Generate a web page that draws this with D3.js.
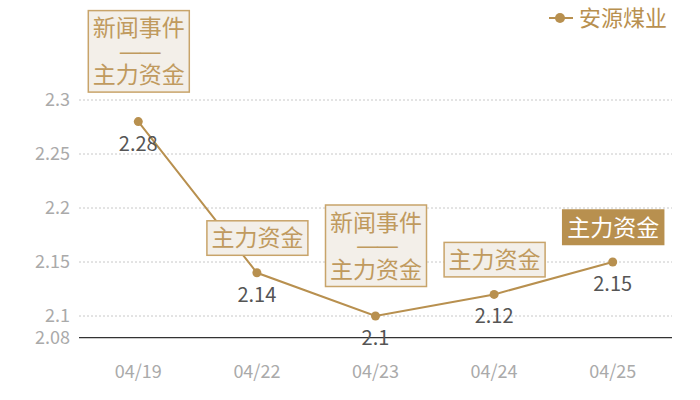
<!DOCTYPE html>
<html>
<head>
<meta charset="utf-8">
<script src="https://cdn.jsdelivr.net/npm/d3@7"></script>
<style>
	body { margin: 0; background: #fff; }
	svg { display: block; font-family: "Noto Sans CJK SC", "Noto Sans", sans-serif; }
</style>
</head>
<body>
<svg id="chart" width="700" height="400"></svg>
<script>
const dates = ["04/19", "04/22", "04/23", "04/24", "04/25"]
const prices = [2.28, 2.14, 2.1, 2.12, 2.15]
const yTicks = [2.08, 2.1, 2.15, 2.2, 2.25, 2.3]
const seriesName = "安源煤业"
// one annotation per day, lines of text and whether it is highlighted
const noteLines = [
	["新闻事件", "——", "主力资金"],
	["主力资金"],
	["新闻事件", "——", "主力资金"],
	["主力资金"],
	["主力资金"]
]
const noteFilled = [false, false, false, false, true]

const gold = "#b8904f"
const svg = d3.select("#chart")

const x = d3.scaleBand().domain(dates).range([79, 672])
const y = d3.scaleLinear().domain([2.08, 2.3]).range([337.6, 100])
const cx = d => x(d) + x.bandwidth() / 2

// grid + y labels
svg.append("g")
	.selectAll("line")
	.data(yTicks.filter(t => t !== 2.08))
	.join("line")
		.attr("x1", 79).attr("x2", 672)
		.attr("y1", d => y(d)).attr("y2", d => y(d))
		.attr("stroke", "#c8c8c8")
		.attr("stroke-dasharray", "2,2")

svg.append("line")
	.attr("x1", 79).attr("x2", 672)
	.attr("y1", y(2.08)).attr("y2", y(2.08))
	.attr("stroke", "#333").attr("stroke-width", 1.2)

svg.append("g")
	.selectAll("text")
	.data(yTicks)
	.join("text")
		.attr("x", 70)
		.attr("y", d => y(d))
		.attr("dy", "0.35em")
		.attr("text-anchor", "end")
		.attr("font-size", 18)
		.attr("fill", "#aaa")
		.text(d => d)

svg.append("g")
	.selectAll("text")
	.data(dates)
	.join("text")
		.attr("x", cx)
		.attr("y", 372)
		.attr("dy", "0.35em")
		.attr("text-anchor", "middle")
		.attr("font-size", 18)
		.attr("fill", "#aaa")
		.text(d => d)

// series
const pts = dates.map((d, i) => ({date: d, v: prices[i], lines: noteLines[i], filled: noteFilled[i]}))

svg.append("path")
	.datum(pts)
	.attr("fill", "none")
	.attr("stroke", gold)
	.attr("stroke-width", 2)
	.attr("d", d3.line().x(d => cx(d.date)).y(d => y(d.v)))

svg.append("g")
	.selectAll("circle")
	.data(pts)
	.join("circle")
		.attr("cx", d => cx(d.date))
		.attr("cy", d => y(d.v))
		.attr("r", 4.5)
		.attr("fill", gold)

svg.append("g")
	.selectAll("text")
	.data(pts)
	.join("text")
		.attr("x", d => cx(d.date))
		.attr("y", d => y(d.v) + 22)
		.attr("dy", "0.35em")
		.attr("text-anchor", "middle")
		.attr("font-size", 20)
		.attr("fill", "#555")
		.text(d => d.v)

// annotation boxes above each point
const lineH = 23.5, boxW = 101
const note = svg.append("g")
	.selectAll("g")
	.data(pts)
	.join("g")
		.attr("transform", d => {
			let h = d.lines.length * lineH + 11
			let gap = d.lines.length > 1 ? 30 : 18
			return `translate(${cx(d.date) - boxW / 2},${y(d.v) - gap - h})`
		})

note.append("rect")
	.attr("x", 0.5).attr("y", 0.5)
	.attr("width", boxW)
	.attr("height", d => d.lines.length * lineH + 11)
	.attr("fill", d => d.filled ? gold : "#f3efe9")
	.attr("stroke", d => d.filled ? gold : "#c8a46a")
	.attr("stroke-width", 1.5)

note.each(function(d) {
	d3.select(this).selectAll("text")
		.data(d.lines)
		.join("text")
			.attr("x", boxW / 2 + 0.5)
			.attr("y", (t, i) => 6 + lineH * i + lineH / 2)
			.attr("dy", "0.36em")
			.attr("text-anchor", "middle")
			.attr("font-size", 23)
			//the CJK font draws the dash half width, DejaVu gives the full em one (squeezed so the two join)
			.attr("font-family", t => t === "——" ? "DejaVu Sans" : null)
			.attr("letter-spacing", t => t === "——" ? -3 : null)
			.attr("fill", d.filled ? "#fff" : "#c09a5e")
			.text(t => t)
})

// legend
const legend = svg.append("g").attr("transform", "translate(549,18)")
legend.append("line").attr("x1", 0).attr("x2", 24).attr("stroke", gold).attr("stroke-width", 2)
legend.append("circle").attr("cx", 11).attr("r", 5).attr("fill", gold)
legend.append("text")
	.attr("x", 30).attr("dy", "0.36em")
	.attr("font-size", 22)
	.attr("fill", gold)
	.text(seriesName)
</script>
</body>
</html>
